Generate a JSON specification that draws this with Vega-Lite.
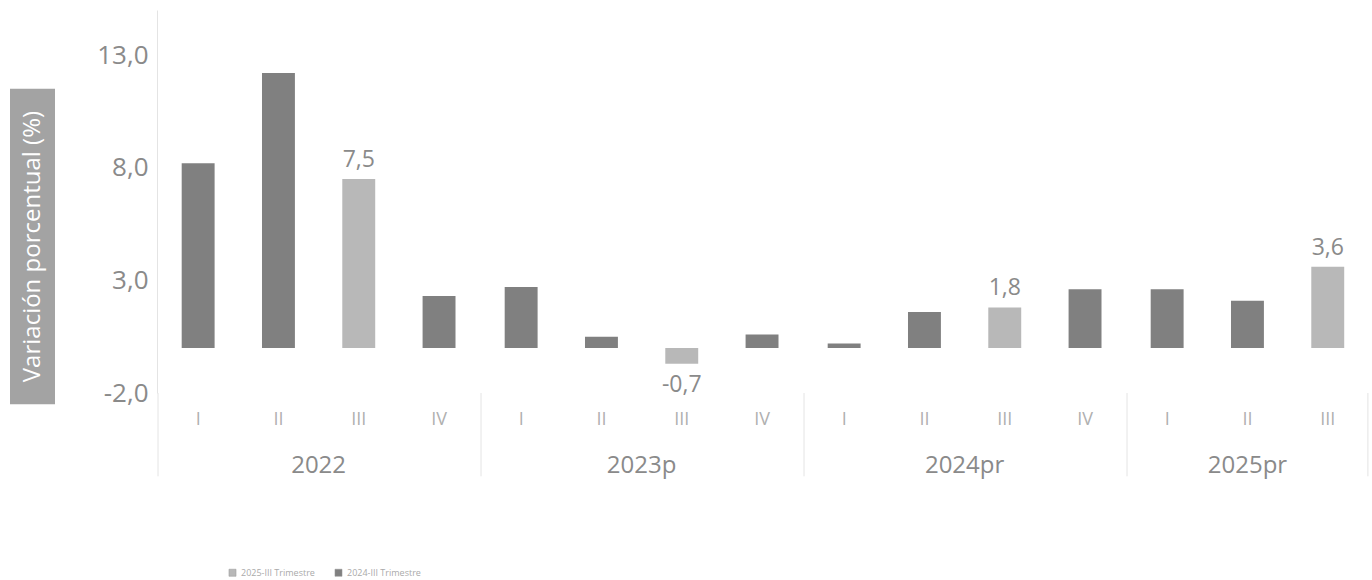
{
  "$schema": "https://vega.github.io/schema/vega-lite/v6.json",
  "padding": {"left": 10, "top": 10, "right": 5, "bottom": 5},
  "config": {
    "font": "Open Sans",
    "view": {"stroke": null},
    "concat": {"spacing": 41}
  },
  "hconcat": [
    {
      "data": {"values": [{"titulo": "Variación porcentual (%)"}]},
      "width": 45,
      "height": 383,
      "layer": [
        {
          "mark": {"type": "rect", "color": "#a3a3a3"},
          "encoding": {
            "y": {"datum": 11.5, "type": "quantitative", "scale": {"domain": [-2, 15], "nice": false}, "axis": null},
            "y2": {"datum": -2.5}
          }
        },
        {
          "mark": {"type": "text", "angle": 270, "color": "white", "fontSize": 24},
          "encoding": {
            "y": {"datum": 4.5, "type": "quantitative"},
            "text": {"field": "titulo"}
          }
        }
      ]
    },
    {
      "data": {
        "values": [
          {"anio": "2022", "trimestre": "I", "valor": 8.2, "serie": "2024-III Trimestre"},
          {"anio": "2022", "trimestre": "II", "valor": 12.2, "serie": "2024-III Trimestre"},
          {"anio": "2022", "trimestre": "III", "valor": 7.5, "serie": "2025-III Trimestre"},
          {"anio": "2022", "trimestre": "IV", "valor": 2.3, "serie": "2024-III Trimestre"},
          {"anio": "2023p", "trimestre": "I", "valor": 2.7, "serie": "2024-III Trimestre"},
          {"anio": "2023p", "trimestre": "II", "valor": 0.5, "serie": "2024-III Trimestre"},
          {"anio": "2023p", "trimestre": "III", "valor": -0.7, "serie": "2025-III Trimestre"},
          {"anio": "2023p", "trimestre": "IV", "valor": 0.6, "serie": "2024-III Trimestre"},
          {"anio": "2024pr", "trimestre": "I", "valor": 0.2, "serie": "2024-III Trimestre"},
          {"anio": "2024pr", "trimestre": "II", "valor": 1.6, "serie": "2024-III Trimestre"},
          {"anio": "2024pr", "trimestre": "III", "valor": 1.8, "serie": "2025-III Trimestre"},
          {"anio": "2024pr", "trimestre": "IV", "valor": 2.6, "serie": "2024-III Trimestre"},
          {"anio": "2025pr", "trimestre": "I", "valor": 2.6, "serie": "2024-III Trimestre"},
          {"anio": "2025pr", "trimestre": "II", "valor": 2.1, "serie": "2024-III Trimestre"},
          {"anio": "2025pr", "trimestre": "III", "valor": 3.6, "serie": "2025-III Trimestre"}
        ]
      },
      "facet": {
        "column": {
          "field": "anio",
          "type": "ordinal",
          "title": null,
          "header": {
            "labelOrient": "bottom",
            "labelFontSize": 24,
            "labelColor": "#8a8a8a",
            "labelPadding": -23
          }
        }
      },
      "spacing": 0,
      "resolve": {"scale": {"x": "independent"}},
      "spec": {
        "width": {"step": 80.3},
        "height": 383,
        "encoding": {
          "x": {
            "field": "trimestre",
            "type": "ordinal",
            "sort": ["I", "II", "III", "IV"],
            "title": null,
            "scale": {"paddingInner": 0, "paddingOuter": 0},
            "axis": {
              "labelAngle": 0,
              "domain": false,
              "ticks": false,
              "labelPadding": 17,
              "labelFontSize": 18,
              "labelColor": "#b0b0b0"
            }
          }
        },
        "layer": [
          {
            "mark": {"type": "bar", "width": {"band": 0.41}},
            "encoding": {
              "y": {
                "field": "valor",
                "type": "quantitative",
                "title": null,
                "scale": {"domain": [-2, 15], "nice": false},
                "axis": {
                  "values": [-2, 3, 8, 13],
                  "labelExpr": "replace(replace(format(datum.value, '.1f'), '.', ','), '−', '-')",
                  "grid": false,
                  "ticks": false,
                  "domainColor": "#e4e4e4",
                  "labelFontSize": 26,
                  "labelColor": "#8a8a8a",
                  "labelPadding": 9
                }
              },
              "color": {
                "field": "serie",
                "type": "nominal",
                "scale": {"domain": ["2025-III Trimestre", "2024-III Trimestre"], "range": ["#b8b8b8", "#808080"]},
                "legend": {
                  "title": null,
                  "orient": "none",
                  "direction": "horizontal",
                  "legendX": 218,
                  "legendY": 558,
                  "symbolType": "square",
                  "symbolSize": 50,
                  "symbolStrokeColor": "#999999",
                  "symbolStrokeWidth": 0.5,
                  "labelFontSize": 9,
                  "labelColor": "#aaaaaa",
                  "columnPadding": 18
                }
              }
            }
          },
          {
            "mark": {"type": "rule", "color": "#e4e4e4", "strokeWidth": 1},
            "encoding": {"y": {"datum": 0, "type": "quantitative"}}
          },
          {
            "transform": [{"filter": "datum.trimestre == 'I'"}],
            "mark": {"type": "rule", "color": "#e4e4e4", "strokeWidth": 1},
            "encoding": {
              "x": {"field": "trimestre", "type": "ordinal", "sort": ["I", "II", "III", "IV"], "bandPosition": 0},
              "y": {"datum": -2, "type": "quantitative"},
              "y2": {"datum": -5.7}
            }
          },
          {
            "transform": [{"filter": "datum.anio == '2025pr' && datum.trimestre == 'III'"}],
            "mark": {"type": "rule", "color": "#e4e4e4", "strokeWidth": 1},
            "encoding": {
              "x": {"field": "trimestre", "type": "ordinal", "sort": ["I", "II", "III", "IV"], "bandPosition": 1},
              "y": {"datum": -2, "type": "quantitative"},
              "y2": {"datum": -5.7}
            }
          },
          {
            "transform": [{"filter": "datum.serie == '2025-III Trimestre' && datum.valor >= 0"}],
            "mark": {
              "type": "text",
              "fontSize": 23,
              "color": "#8a8a8a",
              "dy": -19,
              "text": {"expr": "replace(format(datum.valor, '.1f'), '.', ',')"}
            },
            "encoding": {
              "y": {"field": "valor", "type": "quantitative"}
            }
          },
          {
            "transform": [{"filter": "datum.serie == '2025-III Trimestre' && datum.valor < 0"}],
            "mark": {
              "type": "text",
              "fontSize": 23,
              "color": "#8a8a8a",
              "dy": 21,
              "text": {"expr": "replace(replace(format(datum.valor, '.1f'), '.', ','), '−', '-')"}
            },
            "encoding": {
              "y": {"field": "valor", "type": "quantitative"}
            }
          }
        ]
      }
    }
  ]
}
